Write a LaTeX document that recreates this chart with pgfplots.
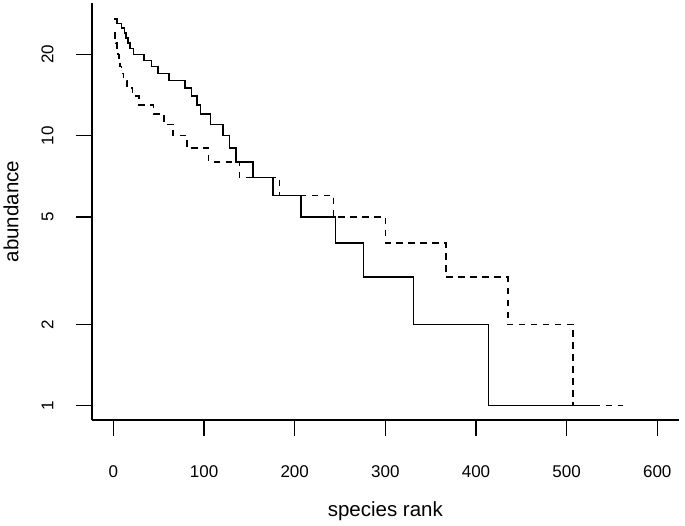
\documentclass[border=0pt]{standalone}
\usepackage{pgfplots}
\pgfplotsset{compat=1.18}
\usepackage{fontspec}
\setmainfont{Liberation Sans}

\begin{document}
\begin{tikzpicture}
\useasboundingbox (0,0) rectangle (685pt,525pt);
\begin{axis}[
  at={(91.7pt,105pt)}, anchor=south west,
  scale only axis, width=587.3pt, height=416.7pt,
  xmin=-24, xmax=624,
  ymode=log, ymin=0.885, ymax=30.9,
  axis lines=left,
  axis line style={-, line width=1.8pt, black},
  tick align=outside, major tick length=16pt,
  tick style={line width=1.5pt, black},
  xminorticks=false, yminorticks=false,
  xtick={0,100,200,300,400,500,600},
  ytick={1,2,5,10,20}, yticklabels={1,2,5,10,20},
  /pgf/number format/assume math mode=true,
  ticklabel style={font=\fontsize{17}{20}\selectfont, inner sep=0pt},
  xticklabel style={anchor=base},
  xticklabel shift=41.3pt,
  yticklabel style={rotate=90, anchor=base},
  yticklabel shift=22.4pt,
  xlabel={species rank}, ylabel={abundance},
  label style={font=\fontsize{20.5}{24}\selectfont, inner sep=0pt},
  xlabel style={at={(axis description cs:0.5,0)}, anchor=base, yshift=-96pt},
  ylabel style={at={(axis description cs:-0.12498,0.5)}, anchor=base},
]
% solid series
\addplot[const plot, black, line width=1.6pt] coordinates {
  (1,27) (4,26) (9,25) (12,24) (14,23) (16,22) (18,21) (22,20) (34,19)
  (42,18) (49,17) (61,16) (79,15) (86,14) (92,13) (96,12) (107,11)
  (121,10) (128,9) (135,8) (154,7) (176,6) (207,5) (245,4) (276,3)
  (331,2) (414,1) (535,1)};
% dashed series
\addplot[const plot, black, line width=1.6pt, dash pattern=on 6.5pt off 5.5pt] coordinates {
  (1,24) (2,23) (3,22) (4,21) (5,20) (6,19) (7,18) (9,17) (11,16)
  (15,15) (21,14) (28,13) (44,12) (56,11) (66,10) (81,9) (105,8)
  (139,7) (183,6) (243,5) (300,4) (367,3) (435,2) (507,1) (562,1)};
\end{axis}
\end{tikzpicture}
\end{document}
